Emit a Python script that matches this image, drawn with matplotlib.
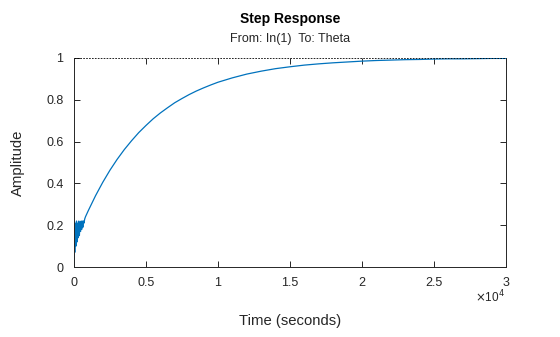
import matplotlib.pyplot as plt

# step response samples (time in seconds, amplitude)
time_s = [0, 20, 60, 100, 140, 180, 220, 260, 300, 340, 380, 420, 460, 500,
          540, 580, 620, 660, 700, 750, 800,
          1000, 1500, 2000, 2500, 3000, 3500, 4000, 4500, 5000, 5500, 6000,
          6500, 7000, 7500, 8000, 8500, 9000, 9500, 10000, 11000, 12000,
          13000, 14000, 15000, 16000, 17000, 18000, 19000, 20000, 21000,
          22000, 23000, 24000, 25000, 26000, 27000, 28000, 29000, 30000]
amplitude = [0, 0.22, 0.07, 0.21, 0.10, 0.22, 0.12, 0.21, 0.14, 0.22, 0.15,
             0.21, 0.17, 0.22, 0.18, 0.22, 0.19, 0.22, 0.21, 0.23, 0.24,
             0.270, 0.341, 0.405, 0.463, 0.515, 0.562, 0.604, 0.643, 0.677,
             0.709, 0.737, 0.762, 0.786, 0.806, 0.825, 0.842, 0.857, 0.871,
             0.884, 0.905, 0.923, 0.937, 0.949, 0.958, 0.966, 0.972, 0.977,
             0.981, 0.985, 0.988, 0.990, 0.992, 0.993, 0.995, 0.996, 0.996,
             0.997, 0.998, 0.998]
steady_state = 1.0

x_ticks = [0, 5000, 10000, 15000, 20000, 25000, 30000]
x_tick_labels = ['0', '0.5', '1', '1.5', '2', '2.5', '3']
y_ticks = [0, 0.2, 0.4, 0.6, 0.8, 1]
y_tick_labels = ['0', '0.2', '0.4', '0.6', '0.8', '1']

plt.rcParams['font.family'] = ['Liberation Sans', 'DejaVu Sans']
dark = '#262626'

fig = plt.figure(figsize=(5.6, 3.37), dpi=100)
ax = fig.add_axes([0.132, 0.2077, 0.7716, 0.6202])

ax.plot(time_s, amplitude, color='#0072BD', linewidth=0.9)
ax.axhline(steady_state, color='black', linestyle=(0, (2, 1.5)), linewidth=0.6)

ax.set_xlim(0, 30000)
ax.set_ylim(0, 1)
ax.set_xticks(x_ticks)
ax.set_xticklabels(x_tick_labels)
ax.set_yticks(y_ticks)
ax.set_yticklabels(y_tick_labels)

ax.tick_params(direction='in', length=4, width=0.7, colors=dark,
               labelsize=9, top=True, right=True)
ax.tick_params(axis='x', pad=7)
ax.tick_params(axis='y', pad=7.5)
ax.spines['top'].set_visible(False)
for side in ['left', 'right', 'bottom']:
    ax.spines[side].set_color(dark)
    ax.spines[side].set_linewidth(0.7)

ax.set_xlabel('Time (seconds)', fontsize=10.7, color=dark)
ax.set_ylabel('Amplitude', fontsize=10.7, color=dark)
ax.xaxis.set_label_coords(0.5, -0.258)
ax.yaxis.set_label_coords(-0.1296, 0.5)
ax.xaxis.label.set_va('center')
ax.yaxis.label.set_va('center')

# exponent for the x axis
ax.text(0.998, -0.1435, r'$\times$10$^4$', transform=ax.transAxes,
        ha='right', va='center', fontsize=8.5, color=dark)

fig.text(0.518, 0.944, 'Step Response', ha='center', va='center',
         fontsize=10, fontweight='bold', color='black')
fig.text(0.518, 0.884, 'From: In(1)  To: Theta', ha='center', va='center',
         fontsize=9, color=dark)

fig.savefig('out.png', dpi=100)
